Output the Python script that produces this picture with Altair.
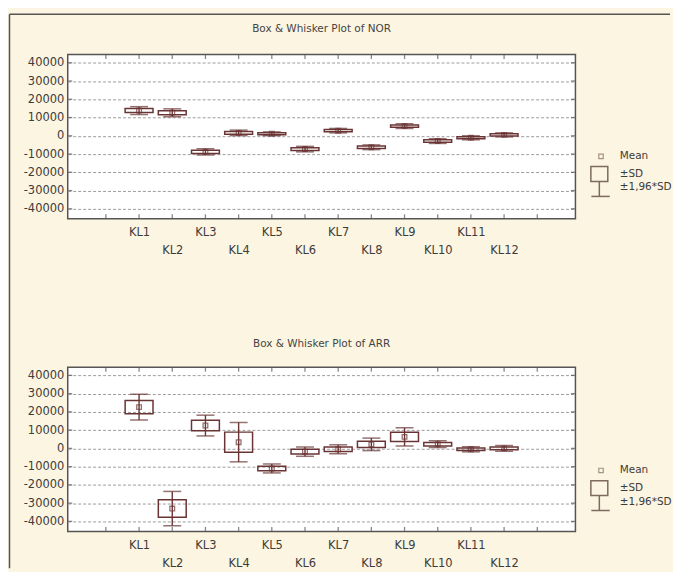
import json
import altair as alt
import pandas as pd

# ---- data ----
categories = ["KL1", "KL2", "KL3", "KL4", "KL5", "KL6", "KL7", "KL8", "KL9", "KL10", "KL11", "KL12"]
nor_mean = [13800, 12600, -8800, 1600, 1100, -7300, 2800, -6300, 5300, -2900, -1100, 500]
nor_sd = [1100, 1100, 870, 770, 520, 770, 620, 660, 660, 660, 560, 560]
arr_mean = [22600, -33000, 12500, 3400, -11000, -1800, -500, 2200, 6300, 2300, -500, 0]
arr_sd = [3600, 4800, 2900, 5500, 1250, 1300, 1250, 1750, 2550, 950, 720, 800]
y_ticks = [40000, 30000, 20000, 10000, 0, -10000, -20000, -30000, -40000]
x_minor_ticks = list(range(1, 15))
titles = ["Box & Whisker Plot of NOR", "Box & Whisker Plot of ARR"]
legend_labels = ["Mean", "±SD", "±1,96*SD"]

BOX = "#6a3434"
LEG = "#7d6b5d"
TXT = "#3c3c3c"
FONT = "DejaVu Sans"
BG = "#FCF5E1"
FRAME = "#555555"

cat_arr = json.dumps(categories)
x_label_expr = (
    f"(datum.value - 2) % 2 == 0 ? {cat_arr}[datum.value - 2] : ['', {cat_arr}[datum.value - 2]]"
)


def legend_layers(dy):
    c = alt.Chart(pd.DataFrame({"k": [0]}))
    sq = c.mark_point(shape="square", size=20, filled=False, color=LEG, strokeWidth=1.2).encode(
        x=alt.value(535.7), y=alt.value(102.3 + dy))
    box = c.mark_rect(fill="transparent", stroke=LEG, strokeWidth=1.5).encode(
        x=alt.value(525.5), x2=alt.value(542.5), y=alt.value(112.5 + dy), y2=alt.value(127.5 + dy))
    stem = c.mark_rule(color=LEG, strokeWidth=1.5).encode(
        x=alt.value(534), y=alt.value(127.5 + dy), y2=alt.value(142.5 + dy))
    cap = c.mark_rule(color=LEG, strokeWidth=1.5).encode(
        x=alt.value(526), x2=alt.value(544.5), y=alt.value(142.5 + dy))
    texts = []
    for lab, yy in zip(legend_labels, [102.3, 120.0, 133.5]):
        texts.append(c.mark_text(text=lab, align="left", baseline="middle", font=FONT,
                                 fontSize=10.5, color=TXT).encode(
            x=alt.value(554.5), y=alt.value(yy + dy)))
    return [sq, box, stem, cap] + texts


def panel(title, mean, sd, dy, title_y, with_border=False):
    df = pd.DataFrame({"cat": categories, "pos": list(range(2, 14)), "mean": mean, "sd": sd})
    df["lo"] = df["mean"] - df["sd"]
    df["hi"] = df["mean"] + df["sd"]
    df["lo2"] = df["mean"] - 1.96 * df["sd"]
    df["hi2"] = df["mean"] + 1.96 * df["sd"]
    base = alt.Chart(df)
    xscale = alt.Scale(domain=[0, 15], nice=False, zero=False)
    yscale = alt.Scale(domain=[-45500, 44500], nice=False, zero=False)
    xaxis = alt.Axis(values=list(range(2, 14)), tickCount=len(categories), labelExpr=x_label_expr,
                     title=None, ticks=False, domain=False, grid=False, labelFont=FONT,
                     labelFontSize=11.5, labelColor=TXT, labelBaseline="top", labelPadding=8,
                     labelLineHeight=18, labelFlush=False, labelOverlap=False)
    yaxis = alt.Axis(values=y_ticks, tickCount=len(y_ticks), labelExpr="'' + datum.value",
                     title=None, ticks=False, domain=False, grid=True, gridColor="#9c9c9c",
                     gridDash=[3, 2], gridWidth=1, labelFont=FONT, labelFontSize=11.5,
                     labelColor=TXT, labelPadding=4, labelFlush=False, labelOverlap=False)
    whisk = base.mark_rule(color=BOX, strokeWidth=1.4).encode(
        x=alt.X("pos:Q", scale=xscale, axis=xaxis),
        y=alt.Y("lo2:Q", scale=yscale, axis=yaxis), y2="hi2:Q")
    box = base.mark_bar(size=28, fill="transparent", stroke=BOX, strokeWidth=1.5).encode(
        x=alt.X("pos:Q", axis=xaxis), y=alt.Y("lo:Q", axis=yaxis), y2="hi:Q")
    cap_lo = base.mark_tick(orient="horizontal", size=18, thickness=1.5, color=BOX).encode(
        x=alt.X("pos:Q", axis=xaxis), y=alt.Y("lo2:Q", axis=yaxis))
    cap_hi = base.mark_tick(orient="horizontal", size=18, thickness=1.5, color=BOX).encode(
        x=alt.X("pos:Q", axis=xaxis), y=alt.Y("hi2:Q", axis=yaxis))
    mean_pt = base.mark_point(shape="square", size=22, filled=False, color=BOX, strokeWidth=1.3).encode(
        x=alt.X("pos:Q", axis=xaxis), y=alt.Y("mean:Q", axis=yaxis))

    # small inward tick marks on the frame
    xt = alt.Chart(pd.DataFrame({"t": x_minor_ticks}))
    yt = alt.Chart(pd.DataFrame({"t": y_ticks}))
    tick_layers = [
        xt.mark_tick(orient="vertical", size=4, thickness=1.3, color=FRAME).encode(
            x=alt.X("t:Q", axis=xaxis), y=alt.value(2.5)),
        xt.mark_tick(orient="vertical", size=4, thickness=1.3, color=FRAME).encode(
            x=alt.X("t:Q", axis=xaxis), y=alt.value(162.5)),
        yt.mark_tick(orient="horizontal", size=4, thickness=1.3, color=FRAME).encode(
            y=alt.Y("t:Q", axis=yaxis), x=alt.value(2.5)),
        yt.mark_tick(orient="horizontal", size=4, thickness=1.3, color=FRAME).encode(
            y=alt.Y("t:Q", axis=yaxis), x=alt.value(507.5)),
    ]

    c = alt.Chart(pd.DataFrame({"k": [0]}))
    title_mark = c.mark_text(text=title, align="center", baseline="middle", font=FONT,
                             fontSize=10.5, color="#444444").encode(
        x=alt.value(255), y=alt.value(title_y))
    layers = []
    if with_border:
        top_line = c.mark_rule(color=FRAME, strokeWidth=1.5).encode(
            x=alt.value(-58.5), x2=alt.value(605), y=alt.value(-40.4))
        left_line = c.mark_rule(color=FRAME, strokeWidth=1.5).encode(
            x=alt.value(-58.5), y=alt.value(-40.4), y2=alt.value(516))
        layers += [top_line, left_line]
    layers += [whisk, box, cap_lo, cap_hi, mean_pt] + tick_layers + [title_mark] + legend_layers(dy)
    return alt.layer(*layers).properties(width=510, height=165)


top = panel(titles[0], nor_mean, nor_sd, 0, -25.7, with_border=True)
bottom = panel(titles[1], arr_mean, arr_sd, 1.5, -23.7)

chart = alt.vconcat(top, bottom, spacing=149, bounds="flush").properties(
    background=BG,
    padding={"left": 0, "top": 3.5, "right": 0, "bottom": 0},
).configure_view(fill="white", stroke=FRAME, strokeWidth=1.5)

chart.save("out.html", embed_options={"renderer": "svg", "actions": False})
